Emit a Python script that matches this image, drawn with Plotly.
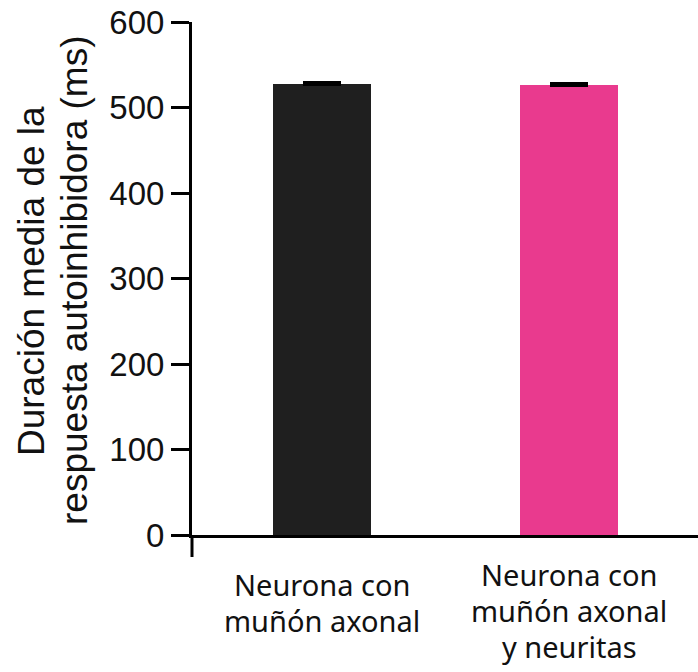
import plotly.graph_objects as go

# Data
categories = [
    ["Neurona con", "muñón axonal"],
    ["Neurona con", "muñón axonal", "y neuritas"],
]
means = [527, 526]
errors = [2, 1.5]
bar_colors = ["#1f1f1f", "#e93a8e"]
y_ticks = [0, 100, 200, 300, 400, 500, 600]
y_title_lines = ["Duración media de la", "respuesta autoinhibidora (ms)"]

x_pos = list(range(len(categories)))

# Plot-area geometry in pixels (used to place text in paper units)
L, R, T, B = 192, 0, 22, 137
W, H = 698, 672
PW, PH = W - L - R, H - T - B


def px_to_paper_x(px):
    return (px - L) / PW


def px_to_paper_y(py):
    return (H - B - py) / PH


fig = go.Figure()
fig.add_trace(go.Bar(
    x=x_pos,
    y=means,
    width=0.4,
    marker=dict(color=bar_colors, line=dict(width=0)),
    error_y=dict(type="data", symmetric=False, array=errors,
                 arrayminus=[0] * len(errors), visible=True,
                 color="black", thickness=3, width=19),
    showlegend=False,
))

# Category labels beneath the axis, one annotation per line
first_line_center = [584, 574]
line_step = 36
for xp, lines, y0 in zip(x_pos, categories, first_line_center):
    for k, line in enumerate(lines):
        fig.add_annotation(x=xp, y=px_to_paper_y(y0 + k * line_step),
                           xref="x", yref="paper", text=line,
                           showarrow=False, yanchor="middle", align="center",
                           font=dict(family="Noto Sans", size=29, color="#111"))

# Two-line rotated y-axis title
title_x = [31, 74]
for xc, line in zip(title_x, y_title_lines):
    fig.add_annotation(x=px_to_paper_x(xc), y=px_to_paper_y(281),
                       xref="paper", yref="paper",
                       text=line, showarrow=False, textangle=-90,
                       xanchor="center", yanchor="middle",
                       font=dict(family="Liberation Sans, Arial", size=37, color="#111"))

# The y-axis line continues a little below the x-axis
fig.add_shape(type="line", xref="paper", yref="paper",
              x0=0, x1=0, y0=0, y1=-22 / PH,
              line=dict(color="black", width=3))

fig.update_layout(
    width=W, height=H,
    margin=dict(l=L, r=R, t=T, b=B),
    plot_bgcolor="white", paper_bgcolor="white",
    bargap=0,
    xaxis=dict(range=[-0.526, 1.522], showticklabels=False, ticks="",
               showgrid=False, zeroline=False, showline=True,
               linecolor="black", linewidth=3),
    yaxis=dict(range=[0, 600], tickvals=y_ticks, ticks="outside",
               ticklen=18, tickwidth=3, tickcolor="black",
               showgrid=False, zeroline=False, showline=True,
               linecolor="black", linewidth=3,
               tickfont=dict(family="Liberation Sans, Arial", size=33, color="#111")),
)

fig.write_html("out.html")
